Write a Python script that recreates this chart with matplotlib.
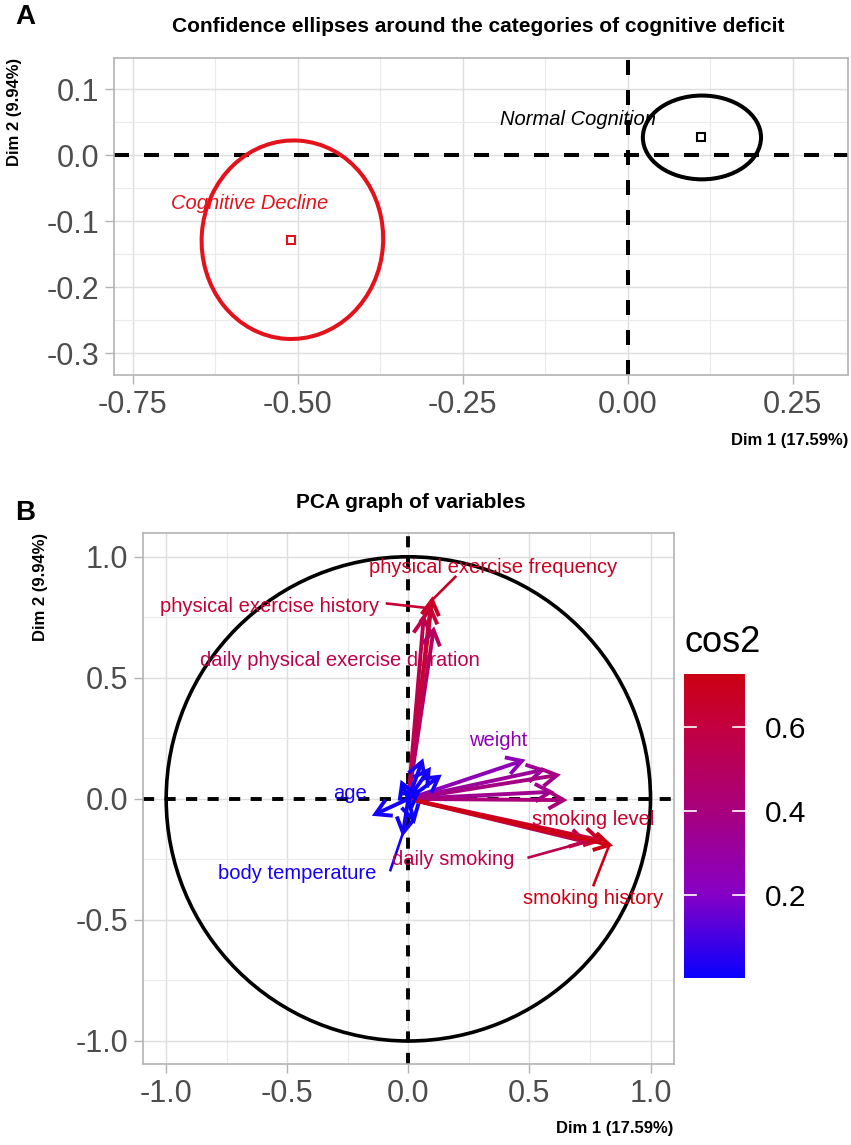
import numpy as np
import matplotlib
matplotlib.use('Agg')
from matplotlib import pyplot as plt
from matplotlib.patches import Ellipse, Circle
from matplotlib.colors import LinearSegmentedColormap, Normalize

plt.rc('font', family=['Liberation Sans', 'DejaVu Sans'])
plt.rc('lines', scale_dashes=False)

W, H = 851, 1145

# ---- panel A data: category centroids + confidence ellipses ----
groups = ['Normal Cognition', 'Cognitive Decline']
group_x = [0.111, -0.510]
group_y = [0.028, -0.128]
ell_cx = [0.1125, -0.508]
ell_cy = [0.027, -0.128]
ell_w = [0.179, 0.275]
ell_h = [0.127, 0.301]
ell_angle = [0, -4]
group_lab_x = [-0.075, -0.573]
group_lab_y = [0.054, -0.073]
group_colors = ['black', '#E3121B']

# ---- panel B data: variable coordinates (Dim1, Dim2) ----
var_names = ['physical exercise frequency', 'physical exercise history',
             'daily physical exercise duration', '',
             'weight', '', '', '', '',
             'smoking level', 'daily smoking', 'smoking history',
             'age', 'body temperature', '', '', '', '', '', '']
var_x = [0.098, 0.091, 0.063, 0.104,
         0.469, 0.552, 0.614, 0.586, 0.641,
         0.790, 0.731, 0.830,
         -0.136, -0.022, 0.056, 0.125, 0.084, -0.026, 0.022, 0.040]
var_y = [0.821, 0.787, 0.746, 0.697,
         0.157, 0.119, 0.098, 0.029, -0.005,
         -0.170, -0.177, -0.190,
         -0.063, -0.140, 0.153, 0.091, 0.119, 0.064, -0.088, 0.030]

# repelled label positions and the start of their leader segments
lab_names = ['physical exercise frequency', 'physical exercise history',
             'daily physical exercise duration', 'weight', 'age',
             'body temperature', 'smoking level', 'daily smoking',
             'smoking history']
lab_x = [0.351, -0.574, -0.281, 0.369, -0.241, -0.460, 0.762, 0.184, 0.764]
lab_y = [0.956, 0.796, 0.573, 0.243, 0.024, -0.309, -0.087, -0.251, -0.413]
seg_x = [0.194, -0.088, None, None, None, -0.074, None, 0.497, 0.765]
seg_y = [0.917, 0.807, None, None, None, -0.294, None, -0.242, -0.356]

cos2 = np.array(var_x) ** 2 + np.array(var_y) ** 2
cmap = LinearSegmentedColormap.from_list(
    'cos2', [(0, '#0A00FF'), (0.28, '#8800C4'), (0.55, '#A8007E'),
             (0.83, '#C4003F'), (1, '#CC0012')])
norm = Normalize(cos2.min(), cos2.max())


def box(x0, y0, x1, y1):
    return [x0 / W, 1 - y1 / H, (x1 - x0) / W, (y1 - y0) / H]


def style_axes(ax):
    ax.set_facecolor('white')
    for s in ax.spines.values():
        s.set_color('#B3B3B3')
        s.set_linewidth(1.2)
    ax.grid(which='major', color='#DEDEDE', lw=1.0, zorder=0)
    ax.grid(which='minor', color='#EAEAEA', lw=0.8, zorder=0)
    ax.set_axisbelow(True)
    ax.tick_params(which='major', length=6.5, width=1.0, color='#B3B3B3',
                   labelsize=22, labelcolor='#4D4D4D', pad=4)
    ax.tick_params(which='minor', length=0)


fig = plt.figure(figsize=(W / 100, H / 100), dpi=100)

# ================= panel A =================
axA = fig.add_axes(box(114, 58, 848, 375))
axA.set_xlim(-0.7783, 0.3338)
axA.set_ylim(-0.333, 0.1474)
axA.set_xticks([-0.75, -0.5, -0.25, 0.0, 0.25])
axA.set_xticklabels(['%.2f' % v for v in [-0.75, -0.5, -0.25, 0.0, 0.25]])
axA.set_xticks([-0.625, -0.375, -0.125, 0.125], minor=True)
axA.set_yticks([0.1, 0.0, -0.1, -0.2, -0.3])
axA.set_yticklabels(['%.1f' % v for v in [0.1, 0.0, -0.1, -0.2, -0.3]])
axA.set_yticks([0.05, -0.05, -0.15, -0.25], minor=True)
style_axes(axA)
axA.axhline(0, color='black', lw=2.9, dashes=(10.8, 10.8), zorder=2)
axA.axvline(0, color='black', lw=2.9, dashes=(10.8, 10.8), zorder=2)
for i, g in enumerate(groups):
    axA.add_patch(Ellipse((ell_cx[i], ell_cy[i]), ell_w[i], ell_h[i],
                          angle=ell_angle[i], fill=False,
                          ec=group_colors[i], lw=2.9, zorder=3))
    axA.plot(group_x[i], group_y[i], 's', ms=6, mfc='none',
             mec=group_colors[i], mew=1.5, zorder=4)
    axA.text(group_lab_x[i], group_lab_y[i], g, color=group_colors[i],
             style='italic', fontsize=14.5, ha='center', va='center',
             zorder=5)

fig.text(478.5 / W, 1 - 26.5 / H,
         'Confidence ellipses around the categories of cognitive deficit',
         fontsize=15, fontweight='bold', ha='center', va='center')
fig.text(15 / W, 1 - 17.5 / H, 'A', fontsize=20, fontweight='bold',
         ha='left', va='center')
fig.text(15 / W, 1 - 58 / H, 'Dim 2 (9.94%)', fontsize=12,
         fontweight='bold', rotation=90, ha='center', va='top')
fig.text(848 / W, 1 - 440 / H, 'Dim 1 (17.59%)', fontsize=12,
         fontweight='bold', ha='right', va='center')

# ================= panel B =================
axB = fig.add_axes(box(142.7, 533.3, 674, 1064))
axB.set_xlim(-1.097, 1.097)
axB.set_ylim(-1.095, 1.097)
ticks = [-1.0, -0.5, 0.0, 0.5, 1.0]
axB.set_xticks(ticks)
axB.set_xticklabels(['%.1f' % v for v in ticks])
axB.set_yticks(ticks)
axB.set_yticklabels(['%.1f' % v for v in ticks])
minor = [-0.75, -0.25, 0.25, 0.75]
axB.set_xticks(minor, minor=True)
axB.set_yticks(minor, minor=True)
style_axes(axB)
axB.axhline(0, color='black', lw=2.8, dashes=(8, 7.5), zorder=2)
axB.axvline(0, color='black', lw=2.8, dashes=(8, 7.5), zorder=2)
axB.add_patch(Circle((0, 0), 1, fill=False, ec='black', lw=2.6, zorder=2))

head = 0.072
for x, y, c in zip(var_x, var_y, cos2):
    col = cmap(norm(c))
    axB.plot([0, x], [0, y], color=col, lw=2.8, solid_capstyle='butt',
             zorder=3)
    ang = np.arctan2(y, x)
    a1 = ang + np.pi - np.pi / 6
    a2 = ang + np.pi + np.pi / 6
    axB.plot([x + head * np.cos(a1), x, x + head * np.cos(a2)],
             [y + head * np.sin(a1), y, y + head * np.sin(a2)],
             color=col, lw=2.8, solid_joinstyle='miter',
             solid_capstyle='butt', zorder=3)

for i, name in enumerate(lab_names):
    k = var_names.index(name)
    col = cmap(norm(cos2[k]))
    if seg_x[i] is not None:
        axB.plot([seg_x[i], var_x[k]], [seg_y[i], var_y[k]], color=col,
                 lw=1.9, zorder=3)
    axB.text(lab_x[i], lab_y[i], name, color=col, fontsize=14.5,
             ha='center', va='center', zorder=4)

fig.text(410.5 / W, 1 - 502.5 / H, 'PCA graph of variables', fontsize=15,
         fontweight='bold', ha='center', va='center')
fig.text(15 / W, 1 - 513.5 / H, 'B', fontsize=20, fontweight='bold',
         ha='left', va='center')
fig.text(40 / W, 1 - 533.3 / H, 'Dim 2 (9.94%)', fontsize=12,
         fontweight='bold', rotation=90, ha='center', va='top')
fig.text(673 / W, 1 - 1128 / H, 'Dim 1 (17.59%)', fontsize=12,
         fontweight='bold', ha='right', va='center')

# colour bar
axC = fig.add_axes(box(684.3, 674.3, 745, 978.3))
grad = np.linspace(norm.vmin, norm.vmax, 256)[:, None]
axC.imshow(grad, aspect='auto', cmap=cmap, norm=norm, origin='lower',
           extent=[0, 1, norm.vmin, norm.vmax])
axC.set_xlim(0, 1)
axC.set_ylim(norm.vmin, norm.vmax)
axC.set_xticks([])
cb_ticks = [0.2, 0.4, 0.6]
axC.yaxis.tick_right()
axC.set_yticks(cb_ticks)
axC.set_yticklabels(['%.1f' % v for v in cb_ticks])
axC.tick_params(axis='y', length=0, pad=14, labelsize=21.5,
                labelcolor='black')
for s in axC.spines.values():
    s.set_visible(False)
for t in cb_ticks:
    axC.plot([0, 0.2], [t, t], color='white', lw=1.2)
    axC.plot([0.8, 1], [t, t], color='white', lw=1.2)
fig.text(685 / W, 1 - 652 / H, 'cos2', fontsize=26, ha='left',
         va='baseline')

fig.savefig('out.png', dpi=100)
